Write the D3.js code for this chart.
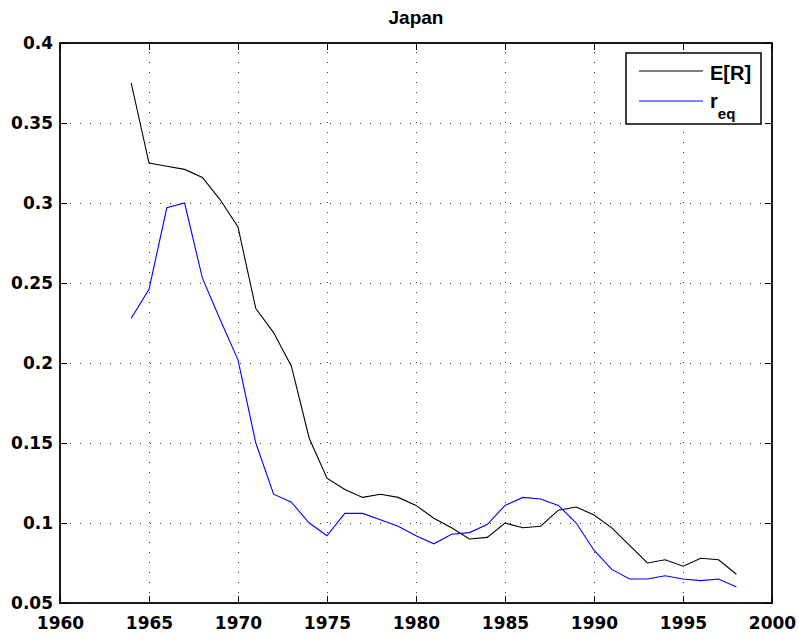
<!DOCTYPE html>
<html>
<head>
<meta charset="utf-8">
<script src="https://cdn.jsdelivr.net/npm/d3@7"></script>
<style>
  body { margin: 0; background: #fff; }
  text { font-family: Arial, "Liberation Sans", Helvetica, sans-serif; }
  .tick text { font-family: "DejaVu Sans", Arial, sans-serif; }
</style>
</head>
<body>
<svg id="chart" width="799" height="636"></svg>
<script>
// data
const years = d3.range(1964, 1999);
const expectedR = [0.375, 0.325, 0.323, 0.321, 0.316, 0.302, 0.285, 0.234, 0.219, 0.198,
  0.153, 0.128, 0.121, 0.116, 0.118, 0.116, 0.111, 0.103, 0.097, 0.090,
  0.091, 0.100, 0.097, 0.098, 0.108, 0.110, 0.105, 0.097, 0.086, 0.075,
  0.077, 0.073, 0.078, 0.077, 0.068];
const rEq = [0.228, 0.246, 0.297, 0.300, 0.253, 0.227, 0.202, 0.150, 0.118, 0.113,
  0.100, 0.092, 0.106, 0.106, 0.102, 0.098, 0.092, 0.087, 0.093, 0.094,
  0.099, 0.111, 0.116, 0.115, 0.111, 0.100, 0.083, 0.071, 0.065, 0.065,
  0.067, 0.065, 0.064, 0.065, 0.060];
const xTicks = [1960, 1965, 1970, 1975, 1980, 1985, 1990, 1995, 2000];
const yTicks = [0.05, 0.1, 0.15, 0.2, 0.25, 0.3, 0.35, 0.4];
const yTickLabels = ["0.05", "0.1", "0.15", "0.2", "0.25", "0.3", "0.35", "0.4"];

// plot box
const boxL = 60, boxR = 772, boxT = 43, boxB = 603;
const svg = d3.select("#chart");

const x = d3.scaleLinear().domain([1960, 2000]).range([boxL, boxR]);
const y = d3.scaleLinear().domain([0.05, 0.4]).range([boxB, boxT]);

// dotted grid
const grid = svg.append("g").attr("stroke", "#333").attr("stroke-width", 1)
  .attr("stroke-dasharray", "1,9");
grid.selectAll(".vg").data(xTicks.slice(1, -1)).enter().append("line")
  .attr("x1", d => Math.round(x(d)) + 0.5).attr("x2", d => Math.round(x(d)) + 0.5)
  .attr("y1", boxB).attr("y2", boxT);
grid.selectAll(".hg").data(yTicks.slice(1, -1)).enter().append("line")
  .attr("y1", d => Math.round(y(d)) + 0.5).attr("y2", d => Math.round(y(d)) + 0.5)
  .attr("x1", boxL).attr("x2", boxR);

// axes (inward ticks, boxed)
const tickLen = 7;
svg.append("g").attr("transform", `translate(0,${boxB})`)
  .call(d3.axisBottom(x).tickValues(xTicks).tickFormat(d3.format("d")).tickSizeInner(-tickLen).tickSizeOuter(0).tickPadding(14))
  .call(g => g.select(".domain").remove());
svg.append("g").attr("transform", `translate(0,${boxT})`)
  .call(d3.axisTop(x).tickValues(xTicks).tickFormat("").tickSizeInner(-tickLen).tickSizeOuter(0))
  .call(g => g.select(".domain").remove());
svg.append("g").attr("transform", `translate(${boxL},0)`)
  .call(d3.axisLeft(y).tickValues(yTicks).tickFormat((d, i) => yTickLabels[i]).tickSizeInner(-tickLen).tickSizeOuter(0).tickPadding(7))
  .call(g => g.select(".domain").remove());
svg.append("g").attr("transform", `translate(${boxR},0)`)
  .call(d3.axisRight(y).tickValues(yTicks).tickFormat("").tickSizeInner(-tickLen).tickSizeOuter(0))
  .call(g => g.select(".domain").remove());

svg.selectAll(".tick line").attr("stroke", "#000").attr("stroke-width", 1);
svg.selectAll(".tick text").attr("fill", "#000").style("font-size", "17px").style("font-weight", "bold");

svg.append("rect").attr("x", boxL).attr("y", boxT)
  .attr("width", boxR - boxL).attr("height", boxB - boxT)
  .attr("fill", "none").attr("stroke", "#000").attr("stroke-width", 1.8);

// series
const line = d3.line().x((d, i) => x(years[i])).y(d => y(d));
svg.append("path").datum(expectedR).attr("d", line)
  .attr("fill", "none").attr("stroke", "#000").attr("stroke-width", 1.1);
svg.append("path").datum(rEq).attr("d", line)
  .attr("fill", "none").attr("stroke", "#0000ff").attr("stroke-width", 1.1);

// title
svg.append("text").attr("x", 416).attr("y", 24).attr("text-anchor", "middle")
  .style("font-size", "19px").style("font-weight", "bold").text("Japan");

// legend
const lg = svg.append("g");
lg.append("rect").attr("x", 626).attr("y", 53).attr("width", 135).attr("height", 71)
  .attr("fill", "#fff").attr("stroke", "#000").attr("stroke-width", 1.5);
lg.append("line").attr("x1", 639).attr("x2", 703).attr("y1", 71).attr("y2", 71)
  .attr("stroke", "#000").attr("stroke-width", 1.1);
lg.append("line").attr("x1", 639).attr("x2", 703).attr("y1", 101).attr("y2", 101)
  .attr("stroke", "#0000ff").attr("stroke-width", 1.1);
lg.append("text").attr("x", 710).attr("y", 80).style("font-size", "20px").style("font-weight", "bold")
  .text("E[R]");
const t2 = lg.append("text").attr("x", 710).attr("y", 108).style("font-size", "20px").style("font-weight", "bold");
t2.append("tspan").text("r");
t2.append("tspan").attr("dy", 11).style("font-size", "15px").text("eq");
</script>
</body>
</html>
